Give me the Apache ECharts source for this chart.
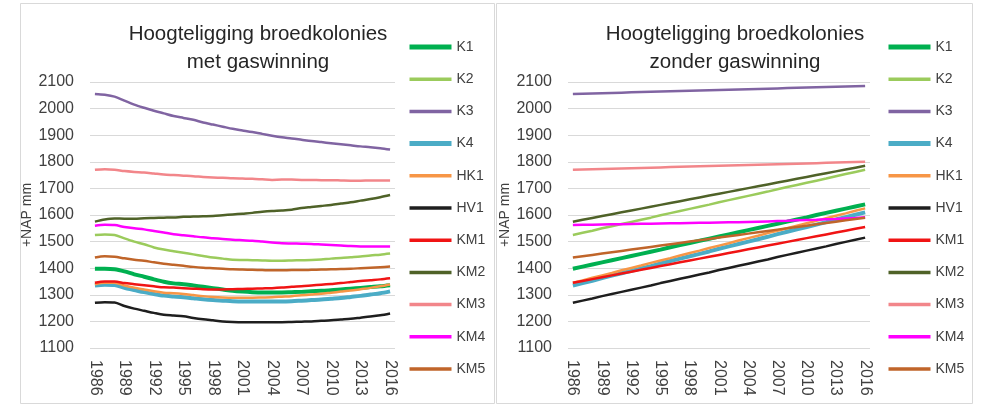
<!DOCTYPE html>
<html><head><meta charset="utf-8">
<script src="https://cdn.jsdelivr.net/npm/echarts@6/dist/echarts.min.js"></script>
<style>html,body{margin:0;padding:0;background:#fff}#c{width:982px;height:408px}</style>
</head><body><div id="c"></div>
<script>
var years = [];
for (var y = 1986; y <= 2016; y++) years.push(String(y));
var seriesNames = ['K1','K2','K3','K4','HK1','HV1','KM1','KM2','KM3','KM4','KM5'];
var titleLeft = 'Hoogteligging broedkolonies\nmet gaswinning';
var titleRight = 'Hoogteligging broedkolonies\nzonder gaswinning';
var yName = '+NAP mm';

// met gaswinning
var L_K1  = [1398,1398,1396,1388,1377,1368,1358,1349,1343,1340,1335,1330,1325,1320,1315,1312,1310,1309,1309,1309,1310,1311,1313,1315,1317,1320,1323,1326,1329,1332,1336];
var L_K2  = [1525,1527,1525,1512,1500,1490,1478,1470,1464,1458,1452,1446,1440,1436,1432,1431,1430,1429,1428,1428,1429,1430,1431,1433,1436,1438,1441,1444,1448,1451,1455];
var L_K3  = [2055,2052,2045,2030,2015,2003,1992,1982,1972,1965,1958,1948,1940,1932,1924,1918,1912,1905,1898,1892,1888,1883,1878,1874,1870,1866,1862,1858,1855,1851,1846];
var L_K4  = [1335,1338,1337,1326,1318,1310,1303,1297,1294,1291,1287,1283,1280,1278,1276,1275,1275,1275,1275,1275,1276,1278,1280,1282,1285,1288,1292,1296,1301,1306,1313];
var L_HK1 = [1340,1345,1345,1335,1327,1320,1313,1308,1306,1303,1299,1295,1292,1290,1289,1289,1289,1290,1291,1293,1295,1298,1301,1304,1308,1312,1316,1321,1326,1332,1339];
var L_HV1 = [1270,1272,1271,1258,1248,1240,1232,1225,1222,1219,1213,1208,1204,1200,1198,1197,1197,1197,1197,1197,1198,1199,1200,1202,1204,1207,1210,1214,1218,1223,1230];
var L_KM1 = [1345,1350,1350,1344,1340,1336,1332,1328,1327,1325,1323,1321,1320,1320,1321,1322,1323,1324,1325,1327,1330,1332,1335,1338,1341,1344,1348,1352,1355,1358,1362];
var L_KM2 = [1575,1583,1587,1586,1586,1588,1589,1590,1591,1593,1594,1595,1596,1599,1602,1605,1608,1612,1615,1617,1620,1626,1630,1634,1638,1643,1648,1654,1660,1667,1675];
var L_KM3 = [1770,1772,1770,1765,1762,1760,1756,1752,1750,1748,1746,1743,1741,1740,1738,1737,1736,1734,1732,1733,1733,1732,1732,1731,1731,1730,1729,1729,1730,1730,1730];
var L_KM4 = [1560,1563,1562,1555,1550,1546,1540,1534,1528,1524,1520,1516,1513,1510,1507,1505,1503,1500,1497,1494,1493,1492,1491,1489,1487,1485,1483,1482,1482,1482,1482];
var L_KM5 = [1440,1445,1443,1437,1432,1428,1422,1417,1413,1409,1405,1402,1400,1398,1396,1395,1394,1393,1392,1392,1393,1393,1394,1395,1396,1397,1398,1400,1402,1404,1406];

// zonder gaswinning
var R_K1  = [1398,1406,1414,1422,1430,1438,1446,1454,1462,1470,1479,1487,1495,1503,1511,1519,1527,1535,1543,1551,1559,1567,1575,1583,1591,1600,1608,1616,1624,1632,1640];
var R_K2  = [1525,1533,1541,1550,1558,1566,1574,1582,1590,1599,1607,1615,1623,1631,1639,1648,1656,1664,1672,1680,1688,1697,1705,1713,1721,1729,1737,1746,1754,1762,1770];
var R_K3  = [2055,2056,2057,2058,2059,2060,2061,2062,2063,2064,2065,2066,2067,2068,2069,2070,2071,2072,2073,2074,2075,2076,2077,2078,2079,2080,2081,2082,2083,2084,2085];
var R_K4  = [1335,1344,1353,1363,1372,1381,1390,1399,1408,1418,1427,1436,1445,1454,1463,1473,1482,1491,1500,1509,1518,1528,1537,1546,1555,1564,1573,1583,1592,1601,1610];
var R_HK1 = [1345,1354,1364,1373,1382,1392,1401,1410,1420,1429,1438,1448,1457,1466,1476,1485,1494,1504,1513,1522,1532,1541,1550,1560,1569,1578,1588,1597,1606,1616,1625];
var R_HV1 = [1270,1278,1286,1295,1303,1311,1319,1327,1335,1344,1352,1360,1368,1376,1384,1393,1401,1409,1417,1425,1433,1442,1450,1458,1466,1474,1482,1491,1499,1507,1515];
var R_KM1 = [1345,1352,1359,1366,1373,1380,1387,1394,1401,1408,1415,1422,1429,1436,1443,1450,1457,1464,1471,1478,1485,1492,1499,1506,1513,1520,1527,1534,1541,1548,1555];
var R_KM2 = [1575,1582,1589,1596,1603,1610,1617,1624,1631,1638,1645,1652,1659,1666,1673,1680,1687,1694,1701,1708,1715,1722,1729,1736,1743,1750,1757,1764,1771,1778,1785];
var R_KM3 = [1770,1771,1772,1773,1774,1775,1776,1777,1778,1779,1780,1781,1782,1783,1784,1785,1786,1787,1788,1789,1790,1791,1792,1793,1794,1795,1796,1797,1798,1799,1800];
var R_KM4 = [1562,1563,1563,1564,1565,1565,1566,1567,1567,1568,1569,1569,1570,1571,1571,1572,1573,1573,1574,1575,1576,1577,1578,1580,1581,1582,1584,1585,1587,1589,1592];
var R_KM5 = [1440,1445,1450,1455,1460,1465,1470,1475,1480,1485,1490,1495,1500,1505,1510,1515,1520,1525,1530,1535,1540,1545,1550,1555,1560,1565,1570,1575,1580,1585,1590];

var leftData  = [L_K1,L_K2,L_K3,L_K4,L_HK1,L_HV1,L_KM1,L_KM2,L_KM3,L_KM4,L_KM5];
var rightData = [R_K1,R_K2,R_K3,R_K4,R_HK1,R_HV1,R_KM1,R_KM2,R_KM3,R_KM4,R_KM5];
var colors = ['#00B050','#9BCB5C','#8064A2','#4BACC6','#F79646','#1E1E1E','#F01414','#4F6228','#F2868A','#FF00FF','#C0652A'];
var widths = [4,2.5,2.5,4,2.5,2.5,2.5,2.5,2.5,2.5,2.5];

var FONT = 'Liberation Sans';
var TXT = '#404040';

var series = [];
[leftData, rightData].forEach(function (set, gi) {
  set.forEach(function (d, i) {
    series.push({
      name: seriesNames[i], type: 'line', xAxisIndex: gi, yAxisIndex: gi,
      data: d, symbol: 'none', smooth: gi === 0 ? 0.3 : false,
      color: colors[i],
      lineStyle: { width: widths[i], color: colors[i] },
      z: 10 - (i === 0 || i === 3 ? 1 : 0)
    });
  });
});

function xAx(gi) {
  return {
    type: 'category', gridIndex: gi, data: years, boundaryGap: true,
    axisTick: { show: false },
    axisLine: { show: false },
    axisLabel: { interval: 2, rotate: -90, fontFamily: FONT, fontSize: 16, color: TXT, margin: 12 }
  };
}
function yAx(gi) {
  return {
    type: 'value', gridIndex: gi, min: 1100, max: 2100, interval: 100,
    name: yName, nameLocation: 'middle', nameRotate: 90, nameGap: 54,
    nameTextStyle: { fontFamily: FONT, fontSize: 14, color: TXT },
    axisLine: { show: false }, axisTick: { show: false },
    axisLabel: { fontFamily: FONT, fontSize: 16, color: TXT, margin: 16, formatter: function (v) { return String(v); } },
    splitLine: { lineStyle: { color: '#D9D9D9', width: 1 } }
  };
}
function legend(left) {
  return {
    orient: 'vertical', left: left, top: 40, padding: 0, itemWidth: 42, itemHeight: 14, itemGap: 18.2,
    data: seriesNames.map(function (n, i) {
      return { name: n, lineStyle: { width: widths[i] + 1, color: colors[i] } };
    }),
    selectedMode: false,
    itemStyle: { opacity: 0 },
    textStyle: { fontFamily: FONT, fontSize: 14, color: TXT }
  };
}

var chart = echarts.init(document.getElementById('c'));
chart.setOption({
  animation: false,
  backgroundColor: '#fff',
  graphic: [
    { type: 'rect', shape: { x: 20.5, y: 3.5, width: 474, height: 400 }, style: { fill: 'none', stroke: '#D9D9D9', lineWidth: 1 }, z: -1 },
    { type: 'rect', shape: { x: 496.5, y: 3.5, width: 476, height: 400 }, style: { fill: 'none', stroke: '#D9D9D9', lineWidth: 1 }, z: -1 }
  ],
  title: [
    { text: titleLeft, left: 258, top: 20, padding: 0, textAlign: 'center', textStyle: { fontFamily: FONT, fontSize: 20.5, fontWeight: 'normal', color: '#262626', lineHeight: 28, align: 'center' } },
    { text: titleRight, left: 735, top: 20, padding: 0, textAlign: 'center', textStyle: { fontFamily: FONT, fontSize: 20.5, fontWeight: 'normal', color: '#262626', lineHeight: 28, align: 'center' } }
  ],
  legend: [legend(407), legend(886)],
  grid: [
    { left: 90, top: 82, width: 305, height: 266 },
    { left: 568, top: 82, width: 302, height: 266 }
  ],
  xAxis: [xAx(0), xAx(1)],
  yAxis: [yAx(0), yAx(1)],
  series: series
});
</script></body></html>
